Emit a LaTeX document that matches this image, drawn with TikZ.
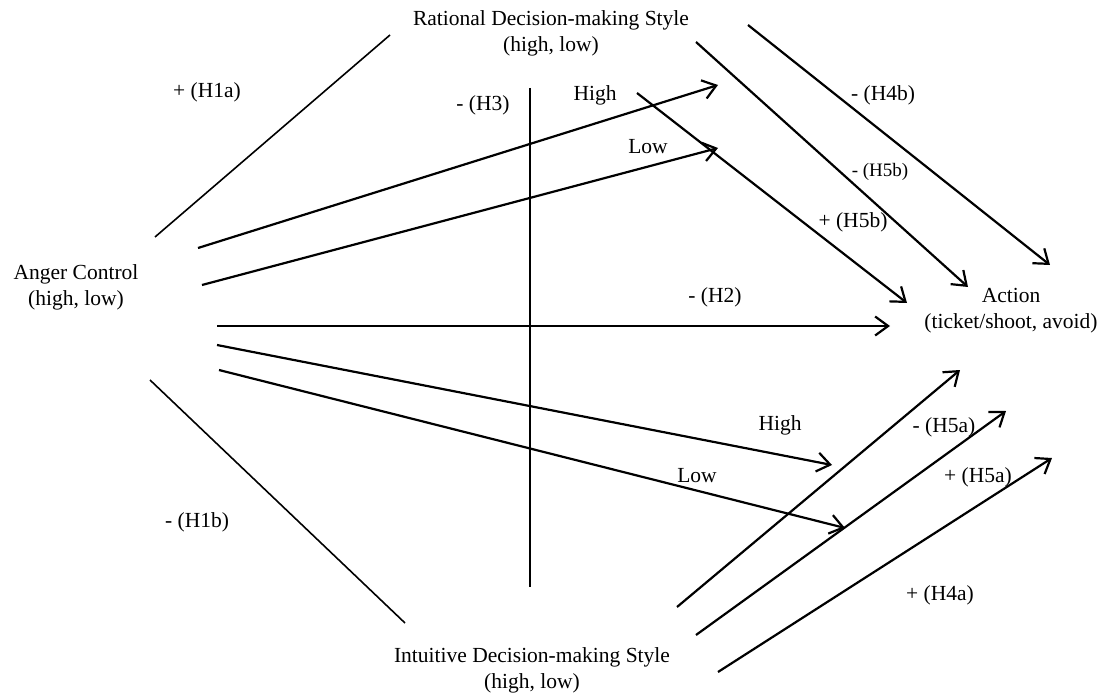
\documentclass[tikz,border=0pt]{standalone}
\usepackage{fontspec}
\setmainfont{Liberation Serif}
\usetikzlibrary{arrows.meta}
\begin{document}
\begin{tikzpicture}[x=1pt,y=-1pt,
  lbl/.style={font=\fontsize{21.5}{26}\selectfont, inner sep=0pt, align=center},
  sml/.style={font=\fontsize{19}{23}\selectfont, inner sep=0pt},
  ln/.style={line width=1.6pt},
  arr/.style={line width=2.2pt, -{Straight Barb[length=13pt,width=19pt,line width=2.2pt]}}]
\useasboundingbox (0,0) rectangle (1106,695);
% main nodes
\node[lbl] (anger) at (76,287) {Anger Control\\(high, low)};
\node[lbl] (rat) at (551,33) {Rational Decision-making Style\\(high, low)};
\node[lbl] (intu) at (532,670) {Intuitive Decision-making Style\\(high, low)};
\node[lbl] (act) at (1011,311) {Action\\(ticket/shoot, avoid)};
% coordinates
\coordinate (r1a) at (155,237); \coordinate (r1b) at (390,35);
\coordinate (i1a) at (150,380); \coordinate (i1b) at (405,623);
\coordinate (va) at (530,88); \coordinate (vb) at (530,587);
\coordinate (hta) at (198,248); \coordinate (htb) at (718,85);
\coordinate (lta) at (202,285); \coordinate (ltb) at (718,148);
\coordinate (h2a) at (217,326); \coordinate (h2b) at (890,326);
\coordinate (hba) at (217,345); \coordinate (hbb) at (832,465);
\coordinate (lba) at (219,370); \coordinate (lbb) at (845,528);
\coordinate (p5ba) at (637,93); \coordinate (p5bb) at (907,303);
\coordinate (m5ba) at (696,42); \coordinate (m5bb) at (968,287);
\coordinate (m4ba) at (748,25); \coordinate (m4bb) at (1050,265);
\coordinate (i2a) at (677,607); \coordinate (i2b) at (960,370);
\coordinate (i3a) at (696,635); \coordinate (i3b) at (1006,411);
\coordinate (i4a) at (718,672); \coordinate (i4b) at (1052,458);
% lines
\draw[ln] (r1a) -- (r1b);
\draw[ln] (i1a) -- (i1b);
\draw[ln] (va) -- (vb);
\draw[arr] (hta) -- (htb);
\draw[arr] (lta) -- (ltb);
\draw[arr] (h2a) -- (h2b);
\draw[arr] (hba) -- (hbb);
\draw[arr] (lba) -- (lbb);
\draw[arr] (p5ba) -- (p5bb);
\draw[arr] (m5ba) -- (m5bb);
\draw[arr] (m4ba) -- (m4bb);
\draw[arr] (i2a) -- (i2b);
\draw[arr] (i3a) -- (i3b);
\draw[arr] (i4a) -- (i4b);
% labels
\node[lbl] (l1) at (207,92) {+ (H1a)};
\node[lbl] (l2) at (483,105) {- (H3)};
\node[lbl] (l3) at (595,95) {High};
\node[lbl] (l4) at (648,147) {Low};
\node[lbl] (l5) at (883,95) {- (H4b)};
\node[sml] (l6) at (880,172) {- (H5b)};
\node[lbl] (l7) at (853,222) {+ (H5b)};
\node[lbl] (l8) at (715,297) {- (H2)};
\node[lbl] (l9) at (780,425) {High};
\node[lbl] (l10) at (697,476) {Low};
\node[lbl] (l11) at (944,427) {- (H5a)};
\node[lbl] (l12) at (978,477) {+ (H5a)};
\node[lbl] (l13) at (940,595) {+ (H4a)};
\node[lbl] (l14) at (197,522) {- (H1b)};
\end{tikzpicture}
\end{document}
